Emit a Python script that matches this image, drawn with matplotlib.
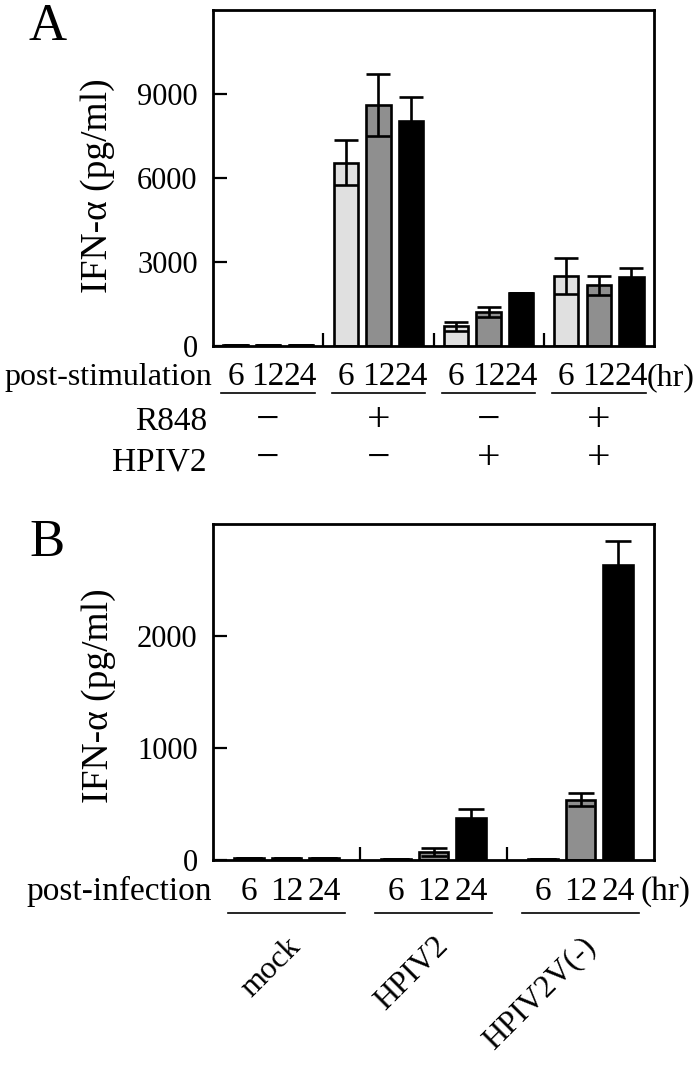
import numpy as np
import matplotlib.pyplot as plt
import matplotlib.transforms as mtransforms

plt.rcParams['font.family'] = ['Liberation Serif', 'DejaVu Serif']

# ---- data, panel A (post-stimulation, pg/ml) ----
a_6h = [40, 6550, 700, 2500]
a_12h = [40, 8600, 1200, 2170]
a_24h = [40, 8030, 1900, 2460]
a_6h_err = [0, 790, 160, 640]
a_12h_err = [0, 1110, 180, 340]
a_24h_err = [0, 860, 0, 330]
r848 = ['\u2212', '+', '\u2212', '+']
hpiv2_stim = ['\u2212', '\u2212', '+', '+']

# ---- data, panel B (post-infection, pg/ml) ----
b_groups = ['mock', 'HPIV2', 'HPIV2V(-)']
b_6h = [22, 10, 10]
b_12h = [22, 75, 540]
b_24h = [22, 378, 2630]
b_6h_err = [0, 0, 0]
b_12h_err = [0, 35, 60]
b_24h_err = [0, 75, 215]

times = ['6', '12', '24']
colors = ['#e0e0e0', '#8f8f8f', 'black']

W, H = 700, 1068
def fy(px):
    return 1 - px / H

fig = plt.figure(figsize=(7, 10.68), dpi=100)
axA = fig.add_axes([213 / W, fy(346), 441 / W, 336 / H])
axB = fig.add_axes([213 / W, fy(860), 441 / W, 336 / H])


def draw_panel(ax, series, errs, offset, width, capsize, ymax, yticks):
    n = len(series[0])
    x = np.arange(n)
    for k in range(3):
        xs = x + (k - 1) * offset
        ax.bar(xs, series[k], width, color=colors[k], edgecolor='black',
               linewidth=1.9, zorder=2)
        ax.errorbar(xs, series[k], yerr=errs[k], fmt='none', ecolor='black',
                    elinewidth=1.9, capsize=capsize, capthick=1.9, zorder=3)
    ax.set_xlim(-0.5, n - 0.5)
    ax.set_ylim(0, ymax)
    ax.set_xticks(np.arange(n - 1) + 0.5)
    ax.set_xticklabels([])
    ax.set_yticks(yticks)
    ax.tick_params(axis='x', direction='in', length=9.5, width=1.6)
    ax.tick_params(axis='y', direction='in', length=10, width=1.6,
                   labelsize=22, pad=11)
    for s in ax.spines.values():
        s.set_linewidth(2)
    ax.set_ylabel('IFN-\u03b1 (pg/ml)', fontsize=27)


draw_panel(axA, [a_6h, a_12h, a_24h], [a_6h_err, a_12h_err, a_24h_err],
           0.295, 0.22, 8.6, 12000, [0, 3000, 6000, 9000])
draw_panel(axB, [b_6h, b_12h, b_24h], [b_6h_err, b_12h_err, b_24h_err],
           0.255, 0.204, 9.4, 3000, [0, 1000, 2000])
axA.yaxis.set_label_coords(-0.222, 0.476)
axB.yaxis.set_label_coords(-0.22, 0.488)

# panel letters
fig.text(29 / W, fy(40), 'A', fontsize=38, ha='left', va='baseline')
fig.text(29 / W, fy(556), 'B', fontsize=38, ha='left', va='baseline')

# ---- annotations under panel A ----
trA = mtransforms.blended_transform_factory(axA.transData, fig.transFigure)
for g in range(len(a_6h)):
    for k, t in enumerate(times):
        axA.text(g + (k - 1) * 0.295, fy(385), t, transform=trA, fontsize=24,
                 ha='center', va='baseline')
    axA.plot([g - 0.423, g + 0.423], [fy(393), fy(393)], transform=trA,
             color='black', lw=1.2, clip_on=False)
    axA.text(g, fy(421), r848[g], transform=trA, fontsize=30,
             ha='center', va='center')
    axA.text(g, fy(459), hpiv2_stim[g], transform=trA, fontsize=30,
             ha='center', va='center')
fig.text(212 / W, fy(385), 'post-stimulation', fontsize=23, ha='right', va='baseline')
fig.text(647 / W, fy(385), '(hr)', fontsize=23, ha='left', va='baseline')
fig.text(207 / W, fy(430), 'R848', fontsize=24, ha='right', va='baseline')
fig.text(207 / W, fy(470), 'HPIV2', fontsize=24, ha='right', va='baseline')

# ---- annotations under panel B ----
trB = mtransforms.blended_transform_factory(axB.transData, fig.transFigure)
for g in range(len(b_groups)):
    for k, t in enumerate(times):
        axB.text(g + (k - 1) * 0.255, fy(900), t, transform=trB, fontsize=24,
                 ha='center', va='baseline')
    axB.plot([g - 0.395, g + 0.395], [fy(913), fy(913)], transform=trB,
             color='black', lw=1.2, clip_on=False)
    axB.text(g + 0.07, fy(942), b_groups[g], transform=trB, fontsize=23,
             ha='right', va='center', rotation=45, rotation_mode='anchor')
fig.text(212 / W, fy(900), 'post-infection', fontsize=24, ha='right', va='baseline')
fig.text(640 / W, fy(900), '(hr)', fontsize=24, ha='left', va='baseline')

fig.savefig('out.png', dpi=100)
